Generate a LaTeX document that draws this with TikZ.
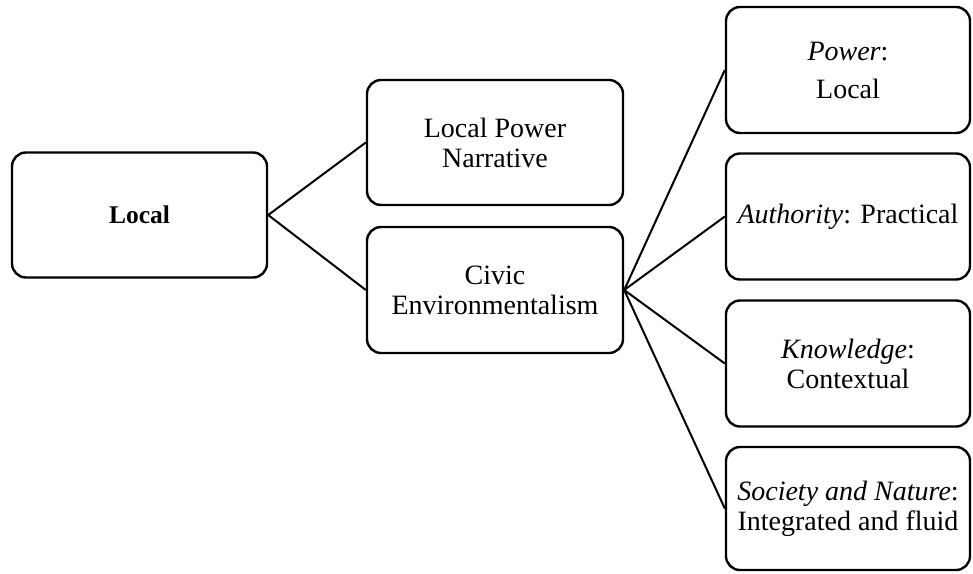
\documentclass[tikz,border=0pt]{standalone}
\usepackage{fontspec}
\setmainfont{Liberation Serif}
\begin{document}
\begin{tikzpicture}[x=1pt,y=-1pt,
  box/.style={draw=black,line width=2.4pt,rounded corners=14pt,fill=white,
    align=center,inner sep=0pt,font=\fontsize{28}{30}\selectfont},
  link/.style={draw=black,line width=2pt}]
  \useasboundingbox (0,0) rectangle (973,573);
  % root
  \node[box,minimum width=255pt,minimum height=125pt,font=\fontsize{25.5}{29}\selectfont\bfseries] (root) at (139.5,215) {Local};
  % second level
  \node[box,minimum width=256pt,minimum height=125pt] (narr) at (495,142.5) {Local Power\\Narrative};
  \node[box,minimum width=256pt,minimum height=126pt] (civic) at (495,290) {Civic\\Environmentalism};
  % third level
  \node[box,minimum width=244pt,minimum height=126pt] (power) at (848,70) {\textit{Power}:\\[8pt]Local};
  \node[box,minimum width=244pt,minimum height=126pt] (auth) at (848,216.5) {\textit{Authority}: Practical};
  \node[box,minimum width=244pt,minimum height=126pt] (know) at (848,363.5) {\textit{Knowledge}:\\Contextual};
  \node[box,minimum width=244pt,minimum height=123pt] (soc) at (848,508.5) {\textit{Society and Nature}:\\Integrated and fluid};
  % connectors
  \draw[link] (root.east) -- (narr.west);
  \draw[link] (root.east) -- (civic.west);
  \draw[link] (civic.east) -- (power.west);
  \draw[link] (civic.east) -- (auth.west);
  \draw[link] (civic.east) -- (know.west);
  \draw[link] (civic.east) -- (soc.west);
\end{tikzpicture}
\end{document}
